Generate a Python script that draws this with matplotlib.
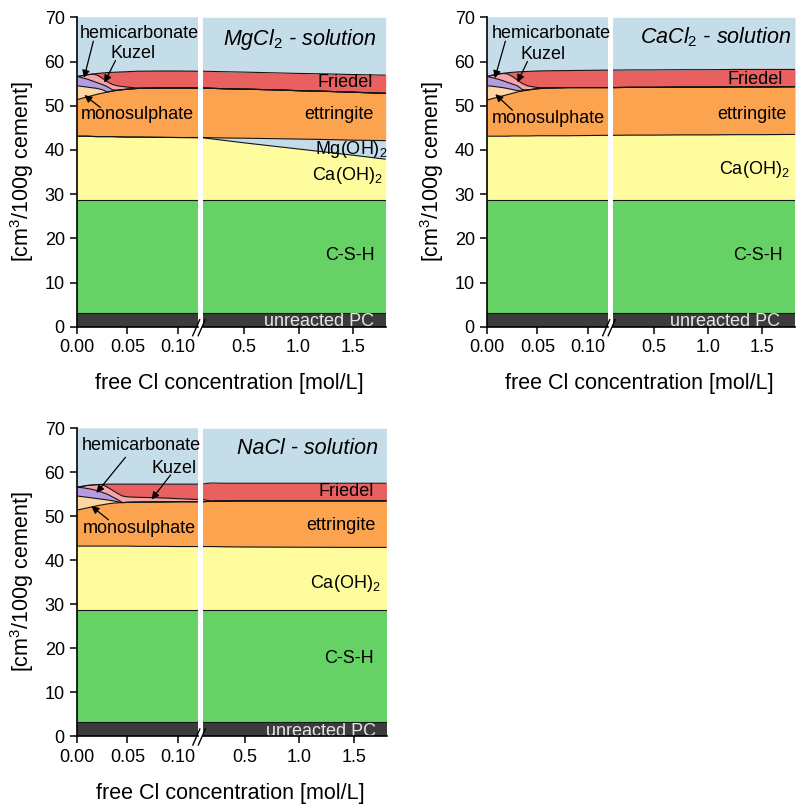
import matplotlib
matplotlib.use("Agg")
import matplotlib.pyplot as plt
import numpy as np
from matplotlib.lines import Line2D

plt.rcParams['font.family'] = ['Liberation Sans', 'DejaVu Sans']
plt.rcParams['mathtext.fontset'] = 'custom'
plt.rcParams['mathtext.rm'] = 'Liberation Sans'
plt.rcParams['mathtext.it'] = 'Liberation Sans:italic'

W, H = 798, 805

# ---------------- data (volumes, cm3/100 g cement) ----------------
phase_order = ['unreacted PC', 'C-S-H', 'Ca(OH)2', 'Mg(OH)2', 'ettringite',
               'monosulphate', 'hemicarbonate', 'Kuzel', 'Friedel']
phase_colors = ['#3c3c3c', '#66d266', '#fefc9c', '#c3dcea', '#fca34f',
                '#fdd6a2', '#b59be0', '#f6a6a6', '#e96060']
pore_color = '#c5dce9'
y_max = 70

# MgCl2 solution
x_mg = [0, 0.005, 0.01, 0.015, 0.02, 0.025, 0.03, 0.035, 0.04, 0.05, 0.06, 0.08, 0.10, 0.12,
        0.3, 0.5, 0.75, 1.0, 1.25, 1.5, 1.8]
mg_pc = [3.2, 3.2, 3.2, 3.2, 3.2, 3.2, 3.2, 3.2, 3.2, 3.2, 3.2, 3.2, 3.2, 3.2,
         3.2, 3.2, 3.2, 3.2, 3.2, 3.2, 3.2]
mg_csh = [25.4, 25.4, 25.4, 25.4, 25.4, 25.4, 25.4, 25.4, 25.4, 25.4, 25.4, 25.4, 25.4, 25.4,
          25.4, 25.4, 25.4, 25.4, 25.4, 25.4, 25.4]
mg_ch = [14.5, 14.5, 14.5, 14.45, 14.4, 14.4, 14.4, 14.4, 14.35, 14.3, 14.3, 14.25, 14.2, 14.15,
         13.6, 13.0, 12.3, 11.6, 10.9, 10.2, 9.3]
mg_mh = [0, 0, 0, 0, 0, 0, 0, 0, 0, 0, 0, 0, 0, 0.05,
         0.5, 1.05, 1.65, 2.25, 2.85, 3.4, 4.2]
mg_ett = [8.3, 8.6, 8.9, 9.25, 9.6, 9.85, 10.1, 10.3, 10.55, 10.85, 11.0, 11.15, 11.2, 11.2,
          11.15, 11.1, 11.05, 10.95, 10.9, 10.85, 10.7]
mg_ms = [3.1, 2.65, 2.2, 1.75, 1.3, 0.75, 0, 0, 0, 0, 0, 0, 0, 0,
         0, 0, 0, 0, 0, 0, 0]
mg_hc = [2.1, 1.95, 1.8, 1.55, 1.3, 1.2, 1.2, 0.3, 0, 0, 0, 0, 0, 0,
         0, 0, 0, 0, 0, 0, 0]
mg_kz = [0, 0.5, 1.0, 1.55, 1.7, 1.4, 1.1, 1.2, 1.0, 0.45, 0.1, 0, 0, 0,
         0, 0, 0, 0, 0, 0, 0]
mg_fr = [0, 0, 0, 0, 0.4, 1.2, 2.1, 2.75, 3.1, 3.5, 3.8, 3.85, 3.85, 3.8,
         3.85, 3.85, 3.85, 3.9, 3.95, 4.0, 4.1]

# CaCl2 solution
x_ca = [0, 0.005, 0.01, 0.015, 0.02, 0.025, 0.03, 0.035, 0.04, 0.05, 0.06, 0.08, 0.10, 0.12,
        0.3, 0.5, 0.75, 1.0, 1.25, 1.5, 1.8]
ca_pc = [3.2, 3.2, 3.2, 3.2, 3.2, 3.2, 3.2, 3.2, 3.2, 3.2, 3.2, 3.2, 3.2, 3.2,
         3.2, 3.2, 3.2, 3.2, 3.2, 3.2, 3.2]
ca_csh = [25.4, 25.4, 25.4, 25.4, 25.4, 25.4, 25.4, 25.4, 25.4, 25.4, 25.4, 25.4, 25.4, 25.4,
          25.4, 25.4, 25.4, 25.4, 25.4, 25.4, 25.4]
ca_ch = [14.5, 14.5, 14.5, 14.5, 14.5, 14.55, 14.55, 14.55, 14.55, 14.6, 14.6, 14.6, 14.65, 14.7,
         14.75, 14.75, 14.8, 14.8, 14.85, 14.85, 14.9]
ca_mh = [0, 0, 0, 0, 0, 0, 0, 0, 0, 0, 0, 0, 0, 0,
         0, 0, 0, 0, 0, 0, 0]
ca_ett = [8.2, 8.5, 8.8, 9.1, 9.4, 9.65, 9.95, 10.2, 10.4, 10.65, 10.8, 10.9, 10.85, 10.8,
          10.8, 10.8, 10.8, 10.8, 10.8, 10.8, 10.8]
ca_ms = [3.2, 2.8, 2.35, 1.9, 1.4, 0.85, 0.3, 0, 0, 0, 0, 0, 0, 0,
         0, 0, 0, 0, 0, 0, 0]
ca_hc = [2.1, 1.95, 1.8, 1.6, 1.4, 1.25, 1.1, 0.3, 0, 0, 0, 0, 0, 0,
         0, 0, 0, 0, 0, 0, 0]
ca_kz = [0, 0.55, 1.05, 1.6, 1.9, 1.7, 1.3, 1.35, 0.95, 0.25, 0.05, 0, 0, 0,
         0, 0, 0, 0, 0, 0, 0]
ca_fr = [0, 0, 0, 0, 0.25, 0.95, 1.85, 2.7, 3.25, 3.75, 3.85, 3.85, 3.9, 3.95,
         3.95, 3.95, 3.95, 3.95, 3.95, 3.95, 3.9]

# NaCl solution
x_na = [0, 0.005, 0.01, 0.015, 0.02, 0.025, 0.03, 0.035, 0.04, 0.045, 0.05, 0.06, 0.08, 0.10, 0.12,
        0.15, 0.2, 0.3, 0.5, 1.0, 1.5, 1.8]
na_pc = [3.2, 3.2, 3.2, 3.2, 3.2, 3.2, 3.2, 3.2, 3.2, 3.2, 3.2, 3.2, 3.2, 3.2, 3.2,
         3.2, 3.2, 3.2, 3.2, 3.2, 3.2, 3.2]
na_csh = [25.4, 25.4, 25.4, 25.4, 25.4, 25.4, 25.4, 25.4, 25.4, 25.4, 25.4, 25.4, 25.4, 25.4, 25.4,
          25.4, 25.4, 25.4, 25.4, 25.4, 25.4, 25.4]
na_ch = [14.6, 14.6, 14.6, 14.6, 14.6, 14.6, 14.6, 14.6, 14.6, 14.6, 14.6, 14.55, 14.55, 14.5, 14.5,
         14.5, 14.5, 14.45, 14.4, 14.35, 14.3, 14.3]
na_mh = [0, 0, 0, 0, 0, 0, 0, 0, 0, 0, 0, 0, 0, 0, 0,
         0, 0, 0, 0, 0, 0, 0]
na_ett = [8.2, 8.45, 8.7, 8.95, 9.2, 9.4, 9.6, 9.75, 9.85, 9.9, 9.95, 10.05, 10.1, 10.2, 10.2,
          10.25, 10.3, 10.4, 10.5, 10.55, 10.6, 10.6]
na_ms = [3.2, 2.8, 2.4, 2.0, 1.6, 1.25, 0.9, 0.55, 0.25, 0, 0, 0, 0, 0, 0,
         0, 0, 0, 0, 0, 0, 0]
na_hc = [2.0, 2.05, 2.0, 1.95, 1.8, 1.55, 1.3, 0.9, 0.5, 0, 0, 0, 0, 0, 0,
         0, 0, 0, 0, 0, 0, 0]
na_kz = [0, 0.3, 0.7, 1.0, 1.4, 1.8, 1.6, 1.5, 1.4, 1.5, 1.25, 1.1, 0.95, 0.7, 0.5,
         0.3, 0, 0, 0, 0, 0, 0]
na_fr = [0, 0, 0, 0, 0, 0.05, 0.7, 1.4, 2.1, 2.7, 2.9, 3.0, 3.1, 3.3, 3.5,
         3.8, 4.15, 4.05, 4.0, 4.0, 4.0, 4.0]

x_left_lim = (0, 0.12)
x_right_lim = (0.12, 1.8)
x_left_ticks = [0.00, 0.05, 0.10]
x_left_ticklabels = ['0.00', '0.05', '0.10']
x_right_ticks = [0.5, 1.0, 1.5]
x_right_ticklabels = ['0.5', '1.0', '1.5']
y_ticks = [0, 10, 20, 30, 40, 50, 60, 70]

panels = [
    dict(title='MgCl$_\\mathit{2}$ - solution', x=x_mg,
         layers=[mg_pc, mg_csh, mg_ch, mg_mh, mg_ett, mg_ms, mg_hc, mg_kz, mg_fr]),
    dict(title='CaCl$_\\mathit{2}$ - solution', x=x_ca,
         layers=[ca_pc, ca_csh, ca_ch, ca_mh, ca_ett, ca_ms, ca_hc, ca_kz, ca_fr]),
    dict(title='NaCl - solution', x=x_na,
         layers=[na_pc, na_csh, na_ch, na_mh, na_ett, na_ms, na_hc, na_kz, na_fr]),
]

# ---------------- layout (pixels) ----------------
boxes = [
    (77.3, 120.4, 202.7, 183.0, 17.3, 326.7),
    (487.3, 120.4, 612.7, 182.3, 17.3, 326.7),
    (77.3, 120.4, 203.0, 183.5, 428.3, 736.0),
]

fig = plt.figure(figsize=(W / 100, H / 100), dpi=100)

FS_TICK = 13
FS_IN = 13
FS_LAB = 15.5


def fx(p):
    return p / W


def fy(p):
    return 1 - p / H


def draw_stack(ax, x, layers, show_mh):
    x = np.asarray(x, float)
    base = np.zeros(len(x))
    tops = []
    for name, col, vals in zip(phase_order, phase_colors, layers):
        top = base + np.asarray(vals, float)
        ax.fill_between(x, base, top, color=col, lw=0, zorder=1)
        tops.append((name, top))
        base = top
    ax.fill_between(x, base, y_max, color=pore_color, lw=0, zorder=1)
    for name, top in tops:
        if name == 'Mg(OH)2' and not show_mh:
            continue
        ax.plot(x, top, color='#151515', lw=0.8, zorder=2, solid_capstyle='butt')


def style_axes(ax, left):
    ax.set_ylim(0, y_max)
    for s in ['top', 'right']:
        ax.spines[s].set_visible(False)
    ax.spines['bottom'].set_linewidth(1.2)
    ax.spines['bottom'].set_zorder(5)
    ax.tick_params(direction='out', length=5, width=1.1, labelsize=FS_TICK, pad=4)
    if left:
        ax.spines['left'].set_linewidth(1.2)
        ax.set_yticks(y_ticks)
        ax.set_xlim(*x_left_lim)
        ax.set_xticks(x_left_ticks)
        ax.set_xticklabels(x_left_ticklabels)
    else:
        ax.spines['left'].set_visible(False)
        ax.tick_params(axis='y', left=False, labelleft=False)
        ax.set_xlim(*x_right_lim)
        ax.set_xticks(x_right_ticks)
        ax.set_xticklabels(x_right_ticklabels)


axes_pairs = []
for pnl, (lx, lw_, rx, rw, yt, yb) in zip(panels, boxes):
    axl = fig.add_axes([fx(lx), fy(yb), fx(lw_), (yb - yt) / H])
    axr = fig.add_axes([fx(rx), fy(yb), fx(rw), (yb - yt) / H])
    show_mh = pnl['title'].startswith('Mg')
    draw_stack(axl, pnl['x'], pnl['layers'], show_mh)
    draw_stack(axr, pnl['x'], pnl['layers'], show_mh)
    style_axes(axl, True)
    style_axes(axr, False)
    axes_pairs.append((axl, axr))

    # break marks "//"
    cx = (lx + lw_ + rx) / 2
    for off in (-4.0, 1.5):
        fig.add_artist(Line2D([fx(cx + off - 3.5), fx(cx + off + 3.5)],
                              [fy(yb + 9), fy(yb - 7)],
                              transform=fig.transFigure, color='k', lw=1.0))
    # axis labels
    fig.text(fx((lx + rx + rw) / 2 - 2), fy(yb + 57), 'free Cl concentration [mol/L]',
             ha='center', va='center', fontsize=FS_LAB)
    fig.text(fx(lx - 55), fy((yt + yb) / 2), '[cm$^3$/100g cement]', rotation=90,
             ha='center', va='center', fontsize=FS_LAB)

arrow_kw = dict(arrowstyle='-|>', color='k', lw=0.9, mutation_scale=11,
                shrinkA=0, shrinkB=0)

# ---- panel 1 (MgCl2) labels ----
axl, axr = axes_pairs[0]
axl.text(0.0025, 66.4, 'hemicarbonate', ha='left', va='center', fontsize=FS_IN)
axl.text(0.056, 61.7, 'Kuzel', ha='center', va='center', fontsize=FS_IN)
axl.text(0.06, 47.9, 'monosulphate', ha='center', va='center', fontsize=FS_IN)
axl.annotate('', xy=(0.0067, 56.3), xytext=(0.016, 64.6), arrowprops=arrow_kw)
axl.annotate('', xy=(0.027, 55.2), xytext=(0.038, 60.2), arrowprops=arrow_kw)
axl.annotate('', xy=(0.007, 52.4), xytext=(0.023, 49.6), arrowprops=arrow_kw)
axr.text(1.72, 64.9, 'MgCl$_\\mathit{2}$ - solution', ha='right', va='center',
         fontsize=FS_LAB, style='italic')
axr.text(1.685, 55.2, 'Friedel', ha='right', va='center', fontsize=FS_IN)
axr.text(1.685, 47.9, 'ettringite', ha='right', va='center', fontsize=FS_IN)
axr.text(1.815, 40.0, 'Mg(OH)$_2$', ha='right', va='center', fontsize=FS_IN)
axr.text(1.77, 34.2, 'Ca(OH)$_2$', ha='right', va='center', fontsize=FS_IN)
axr.text(1.70, 16.2, 'C-S-H', ha='right', va='center', fontsize=FS_IN)
axr.text(1.69, 1.1, 'unreacted PC', ha='right', va='center', fontsize=FS_IN,
         color='#e6e6e6')

# ---- panel 2 (CaCl2) labels ----
axl, axr = axes_pairs[1]
axl.text(0.0045, 66.4, 'hemicarbonate', ha='left', va='center', fontsize=FS_IN)
axl.text(0.056, 61.5, 'Kuzel', ha='center', va='center', fontsize=FS_IN)
axl.text(0.061, 47.0, 'monosulphate', ha='center', va='center', fontsize=FS_IN)
axl.annotate('', xy=(0.0075, 56.2), xytext=(0.018, 64.6), arrowprops=arrow_kw)
axl.annotate('', xy=(0.030, 55.3), xytext=(0.040, 60.0), arrowprops=arrow_kw)
axl.annotate('', xy=(0.008, 52.6), xytext=(0.025, 49.0), arrowprops=arrow_kw)
axr.text(1.763, 65.4, 'CaCl$_\\mathit{2}$ - solution', ha='right', va='center',
         fontsize=FS_LAB, style='italic')
axr.text(1.687, 56.0, 'Friedel', ha='right', va='center', fontsize=FS_IN)
axr.text(1.72, 47.9, 'ettringite', ha='right', va='center', fontsize=FS_IN)
axr.text(1.754, 35.5, 'Ca(OH)$_2$', ha='right', va='center', fontsize=FS_IN)
axr.text(1.69, 16.0, 'C-S-H', ha='right', va='center', fontsize=FS_IN)
axr.text(1.66, 1.1, 'unreacted PC', ha='right', va='center', fontsize=FS_IN,
         color='#e6e6e6')

# ---- panel 3 (NaCl) labels ----
axl, axr = axes_pairs[2]
axl.text(0.0045, 66.2, 'hemicarbonate', ha='left', va='center', fontsize=FS_IN)
axl.text(0.096, 60.9, 'Kuzel', ha='center', va='center', fontsize=FS_IN)
axl.text(0.062, 47.1, 'monosulphate', ha='center', va='center', fontsize=FS_IN)
axl.annotate('', xy=(0.019, 55.3), xytext=(0.048, 63.4), arrowprops=arrow_kw)
axl.annotate('', xy=(0.074, 53.8), xytext=(0.093, 59.4), arrowprops=arrow_kw)
axl.annotate('', xy=(0.014, 52.3), xytext=(0.031, 49.2), arrowprops=arrow_kw)
axr.text(1.72, 65.4, 'NaCl - solution', ha='right', va='center',
         fontsize=FS_LAB, style='italic')
axr.text(1.687, 55.6, 'Friedel', ha='right', va='center', fontsize=FS_IN)
axr.text(1.70, 48.0, 'ettringite', ha='right', va='center', fontsize=FS_IN)
axr.text(1.745, 34.7, 'Ca(OH)$_2$', ha='right', va='center', fontsize=FS_IN)
axr.text(1.68, 17.7, 'C-S-H', ha='right', va='center', fontsize=FS_IN)
axr.text(1.70, 1.0, 'unreacted PC', ha='right', va='center', fontsize=FS_IN,
         color='#e6e6e6')

fig.savefig('out.png', dpi=100)
